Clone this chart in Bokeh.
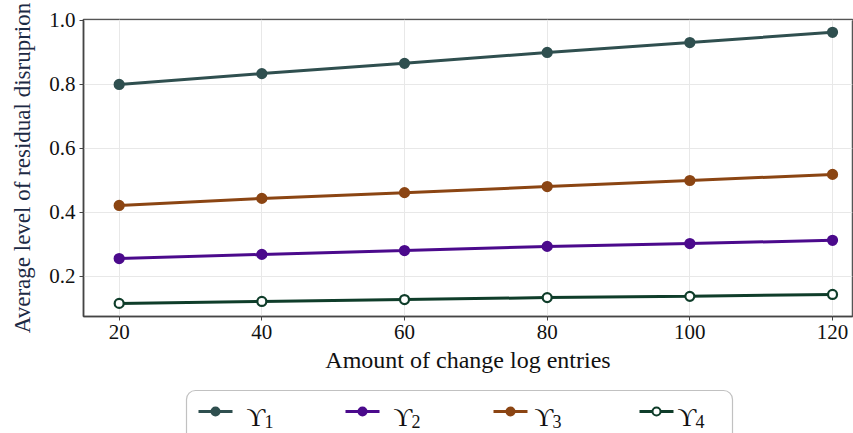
from bokeh.plotting import figure
from bokeh.models import Range1d, FixedTicker, PrintfTickFormatter, BoxAnnotation
from bokeh.layouts import column
from bokeh.core.properties import value
from bokeh.embed import file_html
from bokeh.resources import INLINE

x_entries = [20, 40, 60, 80, 100, 120]
y1 = [0.800, 0.834, 0.866, 0.900, 0.931, 0.963]
y2 = [0.256, 0.269, 0.281, 0.294, 0.303, 0.313]
y3 = [0.422, 0.444, 0.462, 0.481, 0.500, 0.519]
y4 = [0.116, 0.122, 0.128, 0.134, 0.138, 0.144]
label_main = ["ϒ", "ϒ", "ϒ", "ϒ"]
label_sub = ["1", "2", "3", "4"]
x_ticks = [20, 40, 60, 80, 100, 120]
y_ticks = [0.2, 0.4, 0.6, 0.8, 1.0]

colors = ["#2f4f4f", "#4b0a8c", "#8b4513", "#0f3d2a"]
fills = ["#2f4f4f", "#4b0a8c", "#8b4513", "white"]

font = "Liberation Serif"

p = figure(frame_width=769, frame_height=297, output_backend="svg", toolbar_location=None,
           x_range=Range1d(15, 122.8), y_range=Range1d(0.075, 1.003),
           min_border_left=83, min_border_right=1, min_border_top=19, min_border_bottom=62)

for ys, c, f in zip([y1, y2, y3, y4], colors, fills):
    p.line(x_entries, ys, line_color=c, line_width=3)
    p.scatter(x_entries, ys, size=9, fill_color=f, line_color=c, line_width=2.2)

p.xaxis.ticker = FixedTicker(ticks=x_ticks)
p.yaxis.ticker = FixedTicker(ticks=y_ticks)
p.yaxis.formatter = PrintfTickFormatter(format="%.1f")
p.xaxis.axis_label = "Amount of change log entries"
p.yaxis.axis_label = "Average level of residual disruprion"
for ax in [p.xaxis, p.yaxis]:
    ax.axis_label_text_font = font
    ax.axis_label_text_font_style = "normal"
    ax.major_label_text_font = font
    ax.major_label_text_font_size = "21px"
    ax.major_label_text_color = "#111111"
    ax.axis_line_color = "#444444"
    ax.axis_line_width = 1.5
    ax.major_tick_line_color = "#444444"
    ax.major_tick_out = 4
    ax.major_tick_in = 0
    ax.minor_tick_line_color = None
    ax.major_label_standoff = 4
p.xaxis.axis_label_text_font_size = "24px"
p.yaxis.axis_label_text_font_size = "23px"
p.xaxis.axis_label_standoff = 5
p.yaxis.axis_label_standoff = 11
p.xaxis.axis_label_text_color = "#111111"
p.yaxis.axis_label_text_color = "#1c2a44"

p.xgrid.grid_line_color = "#e8e8e8"
p.ygrid.grid_line_color = "#e8e8e8"
p.outline_line_color = "#555555"
p.outline_line_width = 1.5
p.background_fill_color = "white"
p.border_fill_color = "white"

# legend strip; its frame is aligned with the main frame (x 83..852 on the page)
leg = figure(frame_width=769, height=55, output_backend="svg", toolbar_location=None,
             x_range=Range1d(83, 852), y_range=Range1d(55, 0),
             x_axis_type=None, y_axis_type=None,
             min_border_left=83, min_border_right=1, min_border_top=0, min_border_bottom=0)
leg.outline_line_color = None
leg.xgrid.visible = False
leg.ygrid.visible = False
leg.border_fill_color = "white"

glyph_cx = [215, 362, 510, 656]
label_x = [246, 393, 534, 677]
half = 17
for cx, lx, c, f, m, s in zip(glyph_cx, label_x, colors, fills, label_main, label_sub):
    leg.line([cx - half, cx + half], [33, 33], line_color=c, line_width=3)
    leg.scatter([cx], [33], size=8, fill_color=f, line_color=c, line_width=2)
    leg.text([lx], [39], text=[m], text_font=value(font), text_font_size="26px",
             text_color="#111111", text_baseline="alphabetic", text_align="left")
    leg.text([lx + 18], [43], text=[s], text_font=value(font), text_font_size="18px",
             text_color="#111111", text_baseline="alphabetic", text_align="left")

box = BoxAnnotation(left=186, right=732, top=12, bottom=75, fill_alpha=0,
                    line_color="#333333", line_width=1.2)
try:
    box.border_radius = 9
except Exception:
    pass
leg.add_layout(box)

layout = column(p, leg, spacing=0)
open("out.html", "w").write(file_html(layout, INLINE))
